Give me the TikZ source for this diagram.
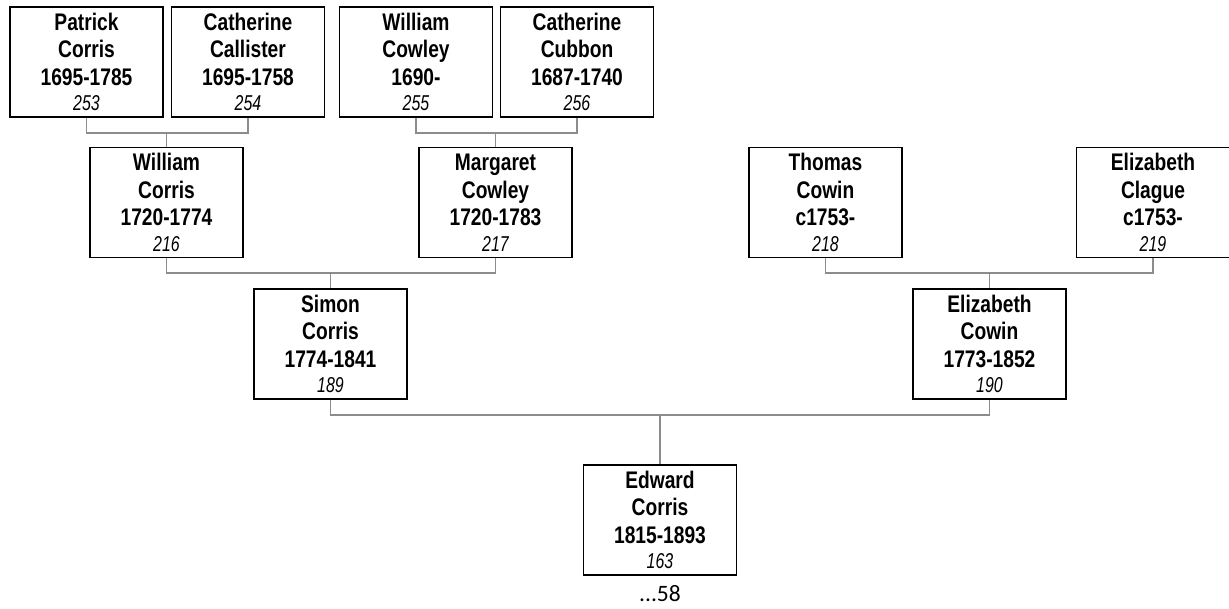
\documentclass[tikz,border=0pt]{standalone}
\usepackage{fontspec}
\setmainfont{Liberation Sans}[FakeStretch=0.8]
\newfontfamily\numfont{Liberation Sans}[FakeStretch=0.74]
\newfontfamily\notefont{Carlito}
\definecolor{conngray}{HTML}{8C8C8C}
\begin{document}
\begin{tikzpicture}[x=1pt,y=1pt,
  person/.style={draw=black, line width=1.6pt, minimum width=153pt, minimum height=110pt,
    inner sep=0pt, align=center, font=\fontsize{24}{27.5}\selectfont\bfseries},
  conn/.style={draw=conngray, line width=1.8pt}]
\newcommand{\idn}[1]{{\numfont\itshape\mdseries\fontsize{21.5}{25}\selectfont #1}}
\useasboundingbox (0,0) rectangle (1229,-608);
% row 1
\node[person] (pc) at (86.5,-62) {Patrick\\Corris\\1695-1785\\[-2pt]\idn{253}};
\node[person] (cca) at (248,-62) {Catherine\\Callister\\1695-1758\\[-2pt]\idn{254}};
\node[person] (wco) at (416,-62) {William\\Cowley\\1690-\\[-2pt]\idn{255}};
\node[person] (ccu) at (577,-62) {Catherine\\Cubbon\\1687-1740\\[-2pt]\idn{256}};
% row 2
\node[person] (wc) at (166.5,-202.5) {William\\Corris\\1720-1774\\[-2pt]\idn{216}};
\node[person] (mc) at (495.5,-202.5) {Margaret\\Cowley\\1720-1783\\[-2pt]\idn{217}};
\node[person] (tc) at (825.5,-202.5) {Thomas\\Cowin\\c1753-\\[-2pt]\idn{218}};
\node[person] (ec) at (1153,-202.5) {Elizabeth\\Clague\\c1753-\\[-2pt]\idn{219}};
% row 3
\node[person] (sc) at (330.5,-344) {Simon\\Corris\\1774-1841\\[-2pt]\idn{189}};
\node[person] (ecw) at (989.5,-344) {Elizabeth\\Cowin\\1773-1852\\[-2pt]\idn{190}};
% row 4
\node[person] (edc) at (660,-520) {Edward\\Corris\\1815-1893\\[-2pt]\idn{163}};
\node[font=\notefont\fontsize{23.5}{26}\selectfont, inner sep=0pt, anchor=base] (more) at (660,-601) {...58};
% junctions
\coordinate (j1) at (wc.north |- 0,-133);
\coordinate (j2) at (mc.north |- 0,-133);
\coordinate (j3) at (sc.north |- 0,-273);
\coordinate (j4) at (ecw.north |- 0,-273);
\coordinate (j5) at (edc.north |- 0,-415);
% connectors
\draw[conn] (pc.south) |- (j1) -| (cca.south);
\draw[conn] (j1) -- (wc.north);
\draw[conn] (wco.south) |- (j2) -| (ccu.south);
\draw[conn] (j2) -- (mc.north);
\draw[conn] (wc.south) |- (j3) -| (mc.south);
\draw[conn] (j3) -- (sc.north);
\draw[conn] (tc.south) |- (j4) -| (ec.south);
\draw[conn] (j4) -- (ecw.north);
\draw[conn] (sc.south) |- (j5) -| (ecw.south);
\draw[conn] (j5) -- (edc.north);
\end{tikzpicture}
\end{document}
